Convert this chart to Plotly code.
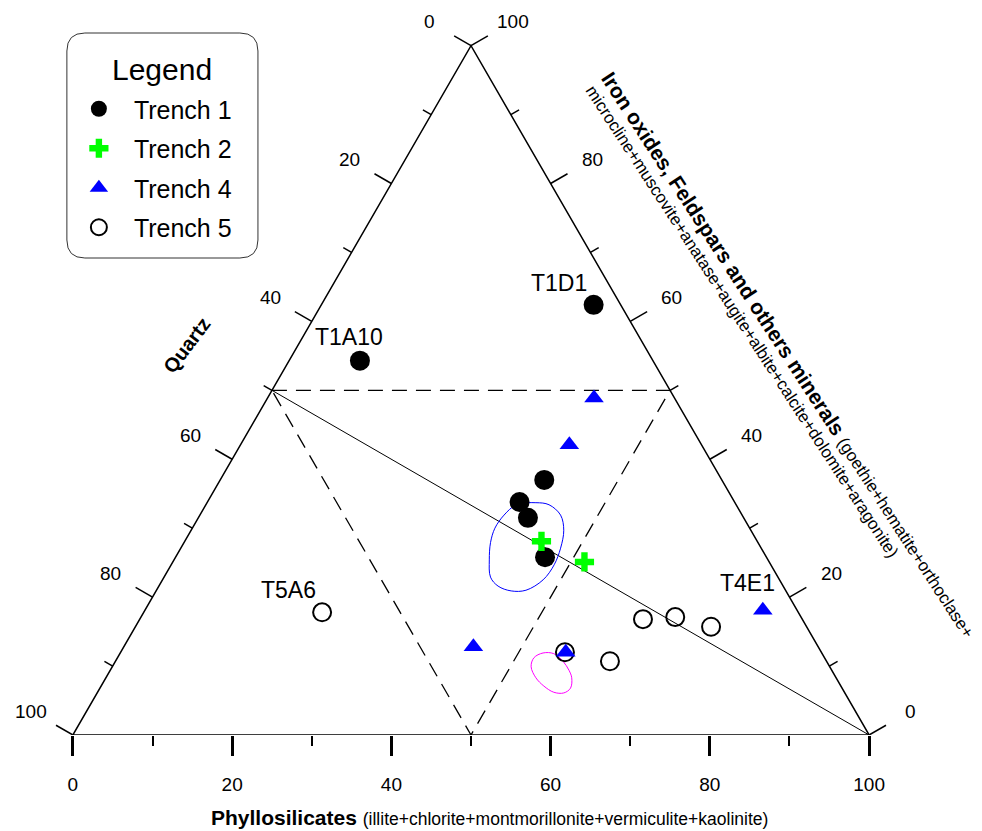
import numpy as np
import plotly.graph_objects as go

# ---------------- data (percent) ----------------
# Each sample: Phyllosilicates, Iron oxides/Feldspars/others, Quartz
trench1_phyllo = [34.2, 8.9, 40.7, 39.2, 41.4, 46.4]
trench1_iron = [62.4, 54.3, 37.0, 33.8, 31.5, 25.8]
trench1_quartz = [3.4, 36.8, 22.3, 27.0, 27.1, 27.8]

trench2_phyllo = [44.8, 51.7]
trench2_iron = [28.1, 25.1]
trench2_quartz = [27.1, 23.2]

trench4_phyllo = [41.0, 41.3, 43.9, 55.9, 77.6]
trench4_iron = [48.9, 42.1, 12.8, 12.0, 18.1]
trench4_quartz = [10.1, 16.6, 43.3, 32.1, 4.3]

trench5_phyllo = [22.4, 63.2, 67.1, 72.3, 55.8, 62.1]
trench5_iron = [17.8, 16.8, 17.1, 15.7, 12.0, 10.7]
trench5_quartz = [59.8, 20.0, 15.8, 12.0, 32.2, 27.2]

# sample labels: (text, trench, index in that trench)
label_text = ["T1D1", "T1A10", "T5A6", "T4E1"]
label_trench = [1, 1, 5, 4]
label_index = [0, 1, 0, 4]

# field contours (Phyllosilicates %, Iron %)
blue_phyllo = [39.0, 41.3, 43.1, 45.3, 46.8, 47.7, 48.1, 47.8, 46.4, 44.6, 42.6, 41.0, 39.6, 38.5, 38.0, 38.2, 39.0]
blue_iron = [33.4, 33.7, 33.4, 31.9, 29.7, 27.1, 24.7, 22.5, 21.0, 20.9, 21.6, 22.9, 25.4, 27.9, 30.0, 31.9, 33.4]
pink_phyllo = [52.6, 52.3, 53.1, 54.5, 56.2, 57.6, 58.5, 59.1, 58.6, 57.3, 55.6, 54.0, 52.6]
pink_iron = [9.9, 11.2, 11.9, 11.8, 10.7, 9.4, 8.3, 6.8, 6.1, 6.2, 7.1, 8.3, 9.9]

tick_major = [0, 20, 40, 60, 80, 100]
tick_minor = [10, 30, 50, 70, 90]

# ---------------- geometry ----------------
SQ = np.sqrt(3) / 2
S = 7.96            # pixels per percent along the base
BODY = 8            # default page margin around the figure
X0PX = 73           # page pixel of base left vertex
BASEPX = 735        # page pixel of base
W, H = 982 - BODY, 831 - BODY
PAD = 3
MT = 20 - BODY
ML = (X0PX - BODY) - PAD * S
PW = (100 + 2 * PAD) * S
MR = W - ML - PW
MB = H - (BASEPX - BODY)
PH = H - MT - MB
YMAX = PH / S

FONT = "Liberation Sans, Arial, sans-serif"


def to_xy(phyllo, iron):
    p = np.asarray(phyllo, float)
    t = np.asarray(iron, float)
    return p + t / 2, t * SQ


def px_paper(px, py):
    """page pixel -> paper coords"""
    return ((px - BODY) - ML) / PW, ((BASEPX - BODY) - (py - BODY)) / PH


fig = go.Figure()

# triangle frame
tri_x, tri_y = to_xy([0, 100, 0, 0], [0, 0, 100, 0])
fig.add_trace(go.Scatter(x=tri_x, y=tri_y, mode="lines",
                         line=dict(color="black", width=1.5),
                         showlegend=False, hoverinfo="skip"))

# edge tick marks (left: Quartz, right: Iron oxides ...)
tx, ty = [], []
for v in tick_major + tick_minor:
    L = 2.45 if v in tick_major else 1.2
    x0, y0 = to_xy(0, 100 - v)
    tx += [float(x0), float(x0 - SQ * L), None]
    ty += [float(y0), float(y0 + 0.5 * L), None]
    x0, y0 = to_xy(100 - v, v)
    tx += [float(x0), float(x0 + SQ * L), None]
    ty += [float(y0), float(y0 + 0.5 * L), None]
fig.add_trace(go.Scatter(x=tx, y=ty, mode="lines",
                         line=dict(color="black", width=1.5),
                         showlegend=False, hoverinfo="skip"))

# medial (dashed) triangle
mx, my = to_xy([0, 50, 50, 0], [50, 50, 0, 50])
fig.add_trace(go.Scatter(x=mx, y=my, mode="lines",
                         line=dict(color="black", width=1.3, dash="15px,9px"),
                         showlegend=False, hoverinfo="skip"))
# median line
dx, dy = to_xy([0, 100], [50, 0])
fig.add_trace(go.Scatter(x=dx, y=dy, mode="lines",
                         line=dict(color="black", width=1),
                         showlegend=False, hoverinfo="skip"))

# contours
bx, by = to_xy(blue_phyllo, blue_iron)
fig.add_trace(go.Scatter(x=bx, y=by, mode="lines", line=dict(color="#0000FF", width=1, shape="spline"),
                         showlegend=False, hoverinfo="skip"))
qx, qy = to_xy(pink_phyllo, pink_iron)
fig.add_trace(go.Scatter(x=qx, y=qy, mode="lines", line=dict(color="#FF00FF", width=1, shape="spline"),
                         showlegend=False, hoverinfo="skip"))

trenches = {
    1: (trench1_phyllo, trench1_iron, trench1_quartz),
    2: (trench2_phyllo, trench2_iron, trench2_quartz),
    4: (trench4_phyllo, trench4_iron, trench4_quartz),
    5: (trench5_phyllo, trench5_iron, trench5_quartz),
}
styles = {
    1: dict(symbol="circle", size=20, color="black"),
    2: dict(symbol="cross", size=16, color="#00FF00"),
    4: dict(symbol="triangle-up", size=17, color="#0000FF"),
    5: dict(symbol="circle-open", size=18, color="black", line=dict(width=2, color="black")),
}
for k, rank in [(5, 4), (1, 1), (2, 2), (4, 3)]:
    p, t, q = trenches[k]
    x, y = to_xy(p, t)
    st = dict(styles[k])
    if "line" not in st:
        st["line"] = dict(width=0)
    fig.add_trace(go.Scatter(x=x, y=y, mode="markers", name=f"Trench {k}",
                             marker=st, legendrank=rank, legendgroup=f"g{k}",
                             cliponaxis=False,
                             customdata=np.c_[p, t, q],
                             hovertemplate="Phyllo %{customdata[0]}<br>Iron %{customdata[1]}<br>Quartz %{customdata[2]}<extra></extra>"))

annotations = []
# point labels
label_shift = {"T1D1": (-35, 22), "T1A10": (-11, 24), "T5A6": (-34, 22), "T4E1": (-15, 27)}
for txt, tr, idx in zip(label_text, label_trench, label_index):
    p, t, q = trenches[tr]
    x, y = to_xy(p[idx], t[idx])
    sx, sy = label_shift[txt]
    annotations.append(dict(x=float(x), y=float(y), xref="x", yref="y", text=txt, showarrow=False,
                            xshift=sx, yshift=sy, font=dict(size=23, color="black", family=FONT)))

# edge tick labels
OFF = 48
for v in tick_major:
    x, y = to_xy(0, 100 - v)
    annotations.append(dict(x=float(x), y=float(y), xref="x", yref="y", text=str(v), showarrow=False,
                            xshift=-SQ * OFF, yshift=0.5 * OFF, font=dict(size=19, color="black", family=FONT)))
    x, y = to_xy(100 - v, v)
    annotations.append(dict(x=float(x), y=float(y), xref="x", yref="y", text=str(v), showarrow=False,
                            xshift=SQ * OFF, yshift=0.5 * OFF, font=dict(size=19, color="black", family=FONT)))

# axis titles
ax_, ay_ = px_paper(489, 818)
annotations.append(dict(x=ax_, y=ay_, xref="paper", yref="paper", showarrow=False,
                        xanchor="center", yanchor="middle",
                        text="<b>Phyllosilicates</b> <span style='font-size:17.5px'>(illite+chlorite+montmorillonite+vermiculite+kaolinite)</span>",
                        font=dict(size=21, color="black", family=FONT)))
ax_, ay_ = px_paper(187, 345)
annotations.append(dict(x=ax_, y=ay_, xref="paper", yref="paper", showarrow=False,
                        xanchor="center", yanchor="middle", textangle=-53,
                        text="<b>Quartz</b>", font=dict(size=20, color="black", family=FONT)))
ax_, ay_ = px_paper(789, 354)
annotations.append(dict(x=ax_, y=ay_, xref="paper", yref="paper", showarrow=False,
                        xanchor="center", yanchor="middle", textangle=57,
                        text="<b>Iron oxides, Feldspars and others minerals</b> <span style='font-size:17px'>(goethie+hematite+orthoclase+</span>",
                        font=dict(size=21, color="black", family=FONT)))
ax_, ay_ = px_paper(742, 321)
annotations.append(dict(x=ax_, y=ay_, xref="paper", yref="paper", showarrow=False,
                        xanchor="center", yanchor="middle", textangle=57,
                        text="microcline+muscovite+anatase+augite+albite+calcite+dolomite+aragonite)",
                        font=dict(size=17, color="black", family=FONT)))

# legend title
ax_, ay_ = px_paper(162, 70)
annotations.append(dict(x=ax_, y=ay_, xref="paper", yref="paper", showarrow=False,
                        xanchor="center", yanchor="middle", text="Legend",
                        font=dict(size=30, color="black", family=FONT)))

# rounded legend frame
x0, y1 = px_paper(67, 33)
x1, y0 = px_paper(258, 258)
rx, ry = 18 / PW, 18 / PH
path = (f"M {x0+rx},{y1} L {x1-rx},{y1} Q {x1},{y1} {x1},{y1-ry} L {x1},{y0+ry} "
        f"Q {x1},{y0} {x1-rx},{y0} L {x0+rx},{y0} Q {x0},{y0} {x0},{y0+ry} "
        f"L {x0},{y1-ry} Q {x0},{y1} {x0+rx},{y1} Z")
shapes = [dict(type="path", path=path, xref="paper", yref="paper",
               line=dict(color="#333333", width=1), fillcolor="rgba(0,0,0,0)")]

lx, ly = px_paper(64, 86)
fig.update_layout(
    width=W, height=H,
    margin=dict(l=ML, r=MR, t=MT, b=MB, pad=0),
    paper_bgcolor="white", plot_bgcolor="white",
    font=dict(family=FONT, color="black"),
    xaxis=dict(range=[-PAD, 100 + PAD], showgrid=False, zeroline=False, showline=False,
               tickvals=tick_major, ticks="outside", ticklen=20, tickwidth=2.5, tickcolor="black",
               tickfont=dict(size=19, color="black", family=FONT), ticklabelstandoff=12,
               minor=dict(tickvals=tick_minor, ticks="outside", ticklen=10, tickwidth=1.5, tickcolor="black"),
               fixedrange=True),
    yaxis=dict(range=[0, YMAX], visible=False, fixedrange=True),
    legend=dict(x=lx, y=ly, xanchor="left", yanchor="top", bgcolor="rgba(0,0,0,0)",
                borderwidth=0, itemwidth=60, tracegroupgap=4,
                font=dict(size=25, color="black", family=FONT)),
    annotations=annotations,
    shapes=shapes,
    hovermode="closest",
)

fig.write_html("out.html")
